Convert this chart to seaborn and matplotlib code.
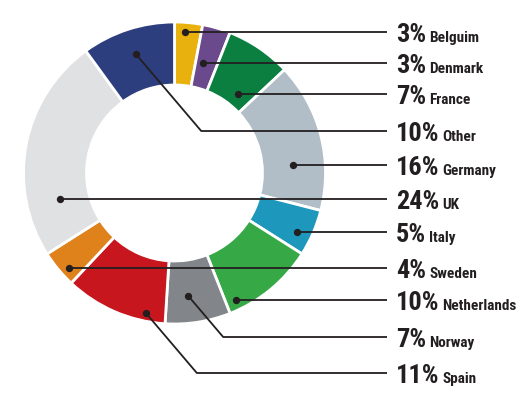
import numpy as np
import matplotlib
matplotlib.use("Agg")
import matplotlib.pyplot as plt
import matplotlib.font_manager as fm
import seaborn as sns

# ---- data (clockwise from 12 o'clock) ----
countries = ["Belguim", "Denmark", "France", "Germany", "Italy", "Netherlands",
             "Norway", "Spain", "Sweden", "UK", "Other"]
shares = [3, 3, 7, 16, 5, 10, 7, 11, 4, 24, 10]
colors = ["#E8B10E", "#6A4A8C", "#0A7F3F", "#B1BEC7", "#1E97BD", "#36A846",
          "#82868B", "#C8161E", "#E0821C", "#E0E1E3", "#2D3E7E"]
# label order on the right-hand side
label_order = ["Belguim", "Denmark", "France", "Other", "Germany", "UK",
               "Italy", "Sweden", "Netherlands", "Norway", "Spain"]

sns.set_style("white")
names = {f.name for f in fm.fontManager.ttflist}
font = next((f for f in ["Liberation Sans Narrow", "DejaVu Sans Condensed", "Roboto Condensed", "DejaVu Sans"] if f in names), "DejaVu Sans")
plt.rcParams["font.family"] = [font, "DejaVu Sans"]

W, H = 525, 398
fig = plt.figure(figsize=(W / 100, H / 100), dpi=100)
ax = fig.add_axes([0, 0, 1, 1])

cx, cy = 174.5, H - 173
R, Rin = 151, 88
wedges, _ = ax.pie(shares, colors=colors, startangle=90, counterclock=False,
                   radius=R, center=(cx, cy), frame=True,
                   wedgeprops=dict(width=R - Rin, edgecolor="white", linewidth=2))
ax.set_xlim(0, W)
ax.set_ylim(0, H)
ax.set_aspect("equal")
ax.axis("off")

# layout: label rows (pixels from top) and dot placement
label_rows = [32, 63, 94, 131, 165, 199, 232, 268, 300, 337, 373]
# horizontal leaders: radius at which dot sits on the label row
dot_radius = {"Belguim": 141.4, "Denmark": 113.6, "France": 101.4, "Germany": 118.8,
              "UK": 117.4, "Italy": 136, "Sweden": 142, "Netherlands": 141.1}
# elbow leaders: (fraction within wedge, radius)
dot_polar = {"Other": (0.5, 125), "Norway": (0.6, 124), "Spain": (0.2, 143)}

cum = np.concatenate([[0], np.cumsum(shares)]) / sum(shares)
line_end, text_x = 387, 396
lc = "#231F20"

pct_texts = []
for name, row in zip(label_order, label_rows):
    i = countries.index(name)
    y = H - row
    if name in dot_polar:
        frac, r = dot_polar[name]
        f = cum[i] + frac * (cum[i + 1] - cum[i])
        th = np.deg2rad(90 - 360 * f)
        dx_, dy_ = cx + r * np.cos(th), cy + r * np.sin(th)
        ex = dx_ + abs(y - dy_) * 0.85
        ax.plot([dx_, ex, line_end], [dy_, y, y], color=lc, lw=1.3, solid_capstyle="butt", zorder=3)
    else:
        mid = (cum[i] + cum[i + 1]) / 2
        side = 1 if mid < 0.5 else -1
        r = dot_radius[name]
        dx_ = cx + side * np.sqrt(max(r ** 2 - (y - cy) ** 2, 0))
        dy_ = y
        ax.plot([dx_, line_end], [y, y], color=lc, lw=1.3, solid_capstyle="butt", zorder=3)
    ax.scatter([dx_], [dy_], s=28, color=lc, zorder=4, linewidths=0)
    pct = ax.text(text_x, y - 10, f"{shares[i]}%", fontsize=19, fontweight="bold",
                  color=lc, va="baseline", ha="left")
    pct_texts.append((pct, name, y - 10))

fig.canvas.draw()
renderer = fig.canvas.get_renderer()
for pct, name, yb in pct_texts:
    bb = pct.get_window_extent(renderer)
    x_end = ax.transData.inverted().transform((bb.x1, bb.y0))[0]
    ax.text(x_end + 3, yb, name, fontsize=11, fontweight="bold",
            color=lc, va="baseline", ha="left")

fig.savefig("out.png", dpi=100)
